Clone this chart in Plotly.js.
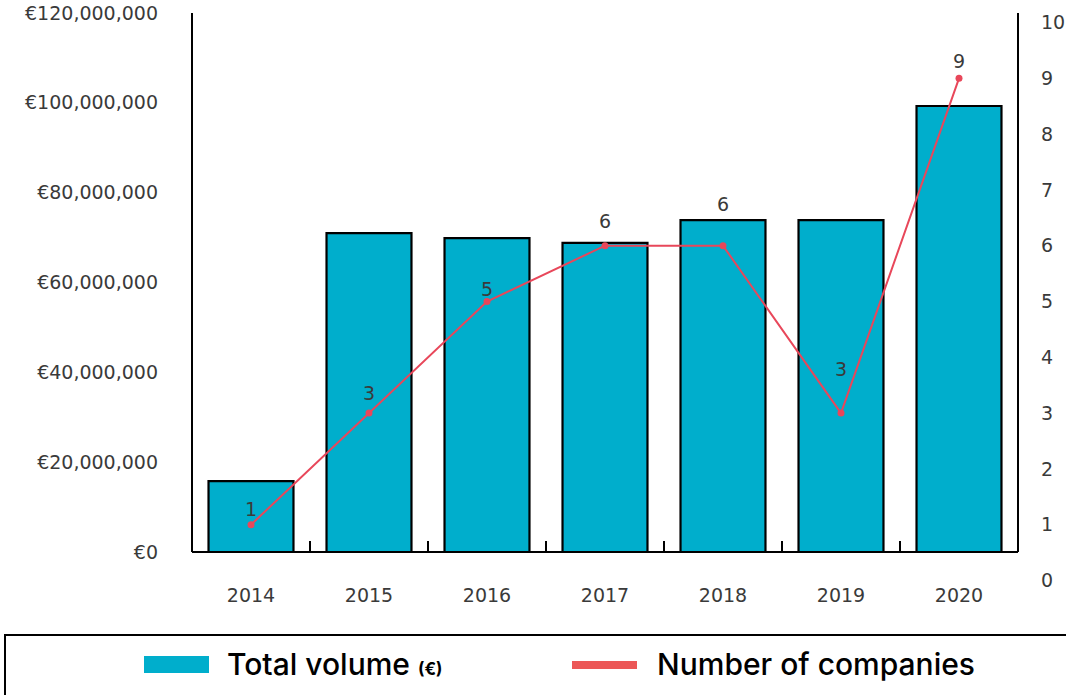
<!DOCTYPE html>
<html>
<head>
<meta charset="utf-8">
<script src="https://cdn.plot.ly/plotly-3.0.1.min.js"></script>
<style>
  html, body { margin: 0; padding: 0; background: #ffffff; }
  #chart { width: 1066px; height: 695px; }
</style>
</head>
<body>
<div id="chart"></div>
<script>
// Annual investment volume and number of funded companies
const years = ['2014', '2015', '2016', '2017', '2018', '2019', '2020'];
const totalVolume = [15800000, 71000000, 69900000, 68800000, 73900000, 73900000, 99300000];
const companies = [1, 3, 5, 6, 6, 3, 9];
const volumeTicks = [0, 20000000, 40000000, 60000000, 80000000, 100000000, 120000000];
const volumeTickText = volumeTicks.map(v => '€' + v.toLocaleString('en-US'));
const companyTicks = [0, 1, 2, 3, 4, 5, 6, 7, 8, 9, 10];
const legendLabels = ['Total volume', 'Number of companies'];

// Styling
const TEAL = '#00AECC';
const RED = '#E8475A';
const RED_KEY = '#EC5757';
const FONT = '"DejaVu Sans", sans-serif';
const KEY_FONT = 'Inter, "Noto Sans", sans-serif';
const TICK_COLOR = '#3a3a3a';
const W = 1066, H = 695;
const M = { l: 192, r: 48, t: 13, b: 105 };
const plotW = W - M.l - M.r;
const plotH = H - M.t - M.b;
const px = x => (x - M.l) / plotW;          // pixel -> paper x
const py = y => (H - M.b - y) / plotH;      // pixel -> paper y

// Baseline of the volume axis sits above the bottom of the plot area,
// the company axis continues below it down to its 0 label.
const BASE_Y = 552;
const VOL_MAX = 120000000;
const volLow = -VOL_MAX * ((H - M.b) - BASE_Y) / (BASE_Y - M.t);
const CNT_ZERO_Y = 580.5, CNT_PX = 55.8;
const cntRange = [(CNT_ZERO_Y - (H - M.b)) / CNT_PX, (CNT_ZERO_Y - M.t) / CNT_PX];

// Vertical offsets of the count labels above their points
const labelLift = [16, 20, 13, 25, 42, 44, 17];

const bars = {
  type: 'bar',
  x: years,
  y: totalVolume,
  width: 0.72,
  marker: { color: TEAL, line: { color: '#000000', width: 2.2 } },
  showlegend: false
};

const line = {
  type: 'scatter',
  mode: 'lines+markers',
  x: years,
  y: companies,
  yaxis: 'y2',
  line: { color: RED, width: 2 },
  marker: { color: RED, size: 7 },
  showlegend: false
};

// category axis annotations are placed by category index
const countLabels = companies.map((c, i) => ({
  x: i, y: c, xref: 'x', yref: 'y2',
  text: String(c), showarrow: false,
  yanchor: 'middle', yshift: labelLift[i],
  font: { family: FONT, size: 19, color: TICK_COLOR }
}));

const legendText = [
  {
    x: px(225), y: py(664), xref: 'paper', yref: 'paper',
    xanchor: 'left', yanchor: 'middle', showarrow: false,
    text: legendLabels[0] + ' <span style="font-size:17px;font-weight:bold">(€)</span>',
    font: { family: KEY_FONT, size: 30, color: '#000000', weight: 500 }
  },
  {
    x: px(655), y: py(664), xref: 'paper', yref: 'paper',
    xanchor: 'left', yanchor: 'middle', showarrow: false,
    text: legendLabels[1],
    font: { family: KEY_FONT, size: 30, color: '#000000', weight: 500 }
  }
];

const shapes = [
  // vertical axis lines, from the baseline to the top of the volume scale
  { type: 'line', xref: 'paper', yref: 'y', x0: 0, x1: 0, y0: 0, y1: VOL_MAX,
    line: { color: '#000000', width: 2 } },
  { type: 'line', xref: 'paper', yref: 'y', x0: 1, x1: 1, y0: 0, y1: VOL_MAX,
    line: { color: '#000000', width: 2 } },
  // legend frame
  { type: 'rect', xref: 'paper', yref: 'paper',
    x0: px(5), x1: px(1090), y0: py(720), y1: py(635),
    line: { color: '#000000', width: 2 }, fillcolor: 'rgba(0,0,0,0)' },
  // legend keys
  { type: 'rect', xref: 'paper', yref: 'paper',
    x0: px(144), x1: px(209), y0: py(673), y1: py(656),
    line: { width: 0 }, fillcolor: TEAL },
  { type: 'line', xref: 'paper', yref: 'paper',
    x0: px(572), x1: px(637), y0: py(665), y1: py(665),
    line: { color: RED_KEY, width: 8 } }
];

const layout = {
  width: W, height: H,
  margin: M,
  paper_bgcolor: '#ffffff',
  plot_bgcolor: '#ffffff',
  font: { family: FONT, size: 19, color: TICK_COLOR },
  showlegend: false,
  xaxis: {
    type: 'category',
    domain: [0, 1],
    range: [-0.5, 6.5],
    anchor: 'free',
    position: py(BASE_Y),
    showline: true, linecolor: '#000000', linewidth: 2,
    ticks: 'inside', tickson: 'boundaries', ticklen: 10, tickwidth: 2, tickcolor: '#000000',
    ticklabelstandoff: 26,
    tickfont: { family: FONT, size: 19, color: TICK_COLOR },
    showgrid: false, zeroline: false, fixedrange: true
  },
  yaxis: {
    domain: [0, 1],
    range: [volLow, VOL_MAX],
    tickvals: volumeTicks,
    ticktext: volumeTickText,
    showline: false,
    ticks: '', ticklabelstandoff: 33,
    tickfont: { family: FONT, size: 19, color: TICK_COLOR },
    showgrid: false, zeroline: false, fixedrange: true
  },
  yaxis2: {
    overlaying: 'y',
    side: 'right',
    range: cntRange,
    tickvals: companyTicks,
    showline: false, ticks: '', ticklabelstandoff: 22,
    tickfont: { family: FONT, size: 19, color: TICK_COLOR },
    showgrid: false, zeroline: false, fixedrange: true
  },
  shapes: shapes,
  annotations: countLabels.concat(legendText)
};

Plotly.newPlot('chart', [bars, line], layout, { displayModeBar: false, staticPlot: true });
</script>
</body>
</html>
